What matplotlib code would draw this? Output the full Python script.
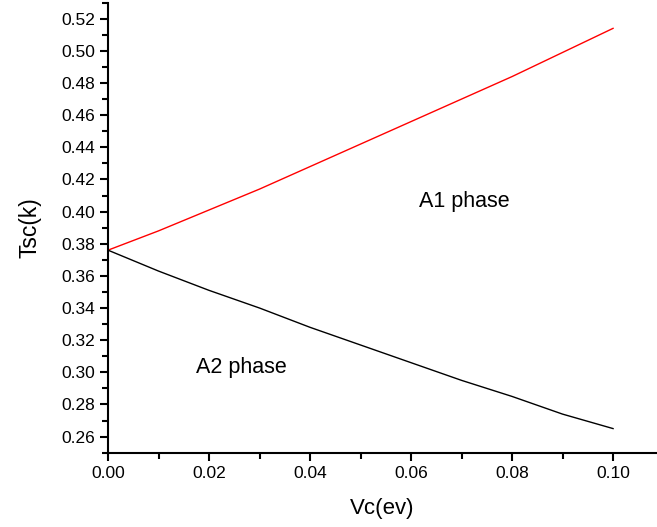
import matplotlib.pyplot as plt
from matplotlib.ticker import MultipleLocator

plt.rcParams['font.family'] = ['Liberation Sans', 'DejaVu Sans']

# data
vc = [0.00, 0.01, 0.02, 0.03, 0.04, 0.05, 0.06, 0.07, 0.08, 0.09, 0.10]
tsc_a1 = [0.376, 0.388, 0.401, 0.414, 0.428, 0.442, 0.456, 0.470, 0.484, 0.499, 0.514]
tsc_a2 = [0.376, 0.363, 0.351, 0.340, 0.328, 0.317, 0.306, 0.295, 0.285, 0.274, 0.265]

fig = plt.figure(figsize=(6.57, 5.27), dpi=100)
ax = fig.add_axes([0.1644, 0.141, 0.8356, 0.854])

ax.plot(vc, tsc_a1, color='red', lw=1.0)
ax.plot(vc, tsc_a2, color='black', lw=1.0)

ax.text(0.0705, 0.4065, "A1 phase", fontsize=15.5, ha='center', va='center')
ax.text(0.0264, 0.3028, "A2 phase", fontsize=15.5, ha='center', va='center')

ax.set_xlim(0.0, 0.1087)
ax.set_ylim(0.25, 0.53)
ax.xaxis.set_major_locator(MultipleLocator(0.02))
ax.xaxis.set_minor_locator(MultipleLocator(0.01))
ax.yaxis.set_major_locator(MultipleLocator(0.02))
ax.yaxis.set_minor_locator(MultipleLocator(0.01))
ax.xaxis.set_major_formatter(plt.FormatStrFormatter('%.2f'))
ax.yaxis.set_major_formatter(plt.FormatStrFormatter('%.2f'))

for s in ['top', 'right']:
    ax.spines[s].set_visible(False)
for s in ['left', 'bottom']:
    ax.spines[s].set_linewidth(1.5)

ax.tick_params(which='major', direction='out', length=6, width=1.5, labelsize=12.5)
ax.tick_params(which='minor', direction='out', length=4, width=1.5)

ax.set_xlabel("Vc(ev)", fontsize=16, labelpad=12)
ax.set_ylabel("Tsc(k)", fontsize=16.5, labelpad=14)

fig.savefig("out.png", dpi=100)
